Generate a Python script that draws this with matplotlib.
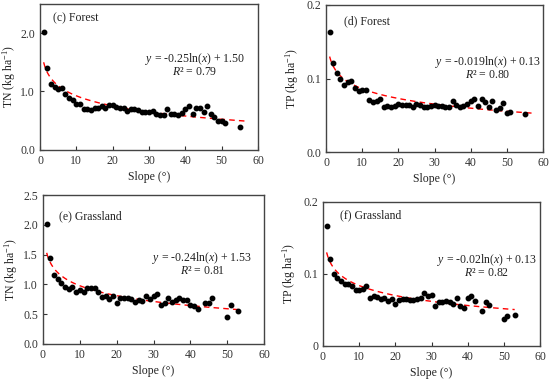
import numpy as np
import matplotlib
matplotlib.use("Agg")
import matplotlib.pyplot as plt

plt.rcParams['font.family'] = ['Liberation Serif', 'DejaVu Serif']
plt.rcParams['mathtext.fontset'] = 'custom'
plt.rcParams['mathtext.rm'] = 'Liberation Serif'
plt.rcParams['mathtext.it'] = 'Liberation Serif:italic'
plt.rcParams['mathtext.bf'] = 'Liberation Serif:bold'

# ---------------- data ----------------
forest_tn_x = [1, 2, 3, 4, 5, 6, 7, 8, 9, 10, 11, 12, 13, 14, 15, 16, 17, 18, 19, 20,
               21, 22, 23, 24, 25, 26, 27, 28, 29, 30, 31, 32, 33, 34, 35, 36, 37, 38, 39, 40,
               41, 42, 43, 44, 45, 46, 47, 48, 49, 50, 51, 55]
forest_tn_y = [2.02, 1.40, 1.13, 1.07, 1.05, 1.06, 0.96, 0.89, 0.85, 0.79, 0.79, 0.70, 0.70, 0.68,
               0.72, 0.71, 0.745, 0.71, 0.775, 0.76, 0.735, 0.71, 0.72, 0.66, 0.705, 0.69, 0.68,
               0.65, 0.64, 0.65, 0.66, 0.62, 0.60, 0.60, 0.70, 0.62, 0.62, 0.59, 0.63, 0.705,
               0.75, 0.62, 0.72, 0.71, 0.64, 0.75, 0.62, 0.565, 0.50, 0.49, 0.46, 0.39]

forest_tp_x = forest_tn_x
forest_tp_y = [0.164, 0.121, 0.107, 0.100, 0.092, 0.096, 0.097, 0.087, 0.083, 0.085, 0.084,
               0.071, 0.068, 0.070, 0.072, 0.061, 0.063, 0.061, 0.063, 0.065, 0.064, 0.064,
               0.064, 0.061, 0.065, 0.064, 0.062, 0.061, 0.063, 0.064, 0.063, 0.063, 0.061,
               0.062, 0.070, 0.064, 0.062, 0.063, 0.066, 0.069, 0.072, 0.063, 0.072, 0.068,
               0.062, 0.070, 0.0575, 0.060, 0.067, 0.054, 0.055, 0.052]

grass_tn_x = [1, 2, 3, 4, 5, 6, 7, 8, 9, 10, 11, 12, 13, 14, 15, 16, 17, 18, 19, 20,
              21, 22, 23, 24, 25, 26, 27, 28, 29, 30, 31, 32, 33, 34, 35, 36, 37, 38, 39, 40,
              41, 42, 44, 45, 46, 50, 51, 53]
grass_tn_y = [2.01, 1.45, 1.16, 1.09, 1.02, 0.96, 0.93, 0.95, 0.88, 0.91, 0.88, 0.94, 0.94,
              0.94, 0.88, 0.785, 0.80, 0.75, 0.80, 0.68, 0.78, 0.77, 0.77, 0.75, 0.71, 0.73,
              0.72, 0.81, 0.75, 0.80, 0.84, 0.65, 0.69, 0.78, 0.71, 0.74, 0.77, 0.74, 0.73,
              0.65, 0.63, 0.58, 0.69, 0.69, 0.77, 0.45, 0.66, 0.56]

grass_tp_x = grass_tn_x
grass_tp_y = [0.166, 0.121, 0.100, 0.095, 0.0905, 0.086, 0.086, 0.083, 0.078, 0.078, 0.079,
              0.0835, 0.066, 0.069, 0.068, 0.065, 0.066, 0.063, 0.065, 0.058, 0.064, 0.065,
              0.065, 0.064, 0.064, 0.065, 0.067, 0.074, 0.070, 0.071, 0.056, 0.061, 0.061,
              0.062, 0.061, 0.0585, 0.066, 0.056, 0.053, 0.066, 0.069, 0.062, 0.049, 0.061,
              0.057, 0.038, 0.042, 0.043]

# fit parameters (a*ln(x) + b) and plotted range end
fits = {
    'c': (-0.25, 1.50, 57),
    'd': (-0.019, 0.13, 57),
    'e': (-0.24, 1.53, 53),
    'f': (-0.02, 0.13, 53),
}
eq_text = {
    'c': (r'$y$ = -0.25ln($x$) + 1.50', r'$R$² = 0.79'),
    'd': (r'$y$ = -0.019ln($x$) + 0.13', r'$R$² = 0.80'),
    'e': (r'$y$ = -0.24ln($x$) + 1.53', r'$R$² = 0.81'),
    'f': (r'$y$ = -0.02ln($x$) + 0.13', r'$R$² = 0.82'),
}
titles = {'c': '(c) Forest', 'd': '(d) Forest', 'e': '(e) Grassland', 'f': '(f) Grassland'}

fig = plt.figure(figsize=(5.5, 3.81), dpi=100)
W, H = 550, 381
def add_ax(l, t, r, b):
    return fig.add_axes([l / W, (H - b) / H, (r - l) / W, (b - t) / H])

axes = {
    'c': add_ax(40, 4, 258, 149.7),
    'd': add_ax(326, 5, 543, 152.3),
    'e': add_ax(43, 195, 264, 344),
    'f': add_ax(323, 202, 540, 346),
}
data = {
    'c': (forest_tn_x, forest_tn_y),
    'd': (forest_tp_x, forest_tp_y),
    'e': (grass_tn_x, grass_tn_y),
    'f': (grass_tp_x, grass_tp_y),
}
ylims = {'c': 2.5, 'd': 0.2, 'e': 2.5, 'f': 0.2}
yticks = {
    'c': ([0, 1, 2], ['0.0', '1.0', '2.0']),
    'd': ([0, 0.1, 0.2], ['0.0', '0.1', '0.2']),
    'e': ([0, 0.5, 1.0, 1.5, 2.0, 2.5], ['0.0', '0.5', '1.0', '1.5', '2.0', '2.5']),
    'f': ([0, 0.1, 0.2], ['0', '0.1', '0.2']),
}
ylabels = {'c': 'TN (kg ha$^{-1}$)', 'd': 'TP (kg ha$^{-1}$)',
           'e': 'TN (kg ha$^{-1}$)', 'f': 'TP (kg ha$^{-1}$)'}
labelpads = {'c': 1.5, 'd': 4, 'e': 2.5, 'f': 4}
eqpos = {'c': (0.71, 0.625, 0.535), 'd': (0.747, 0.615, 0.525),
         'e': (0.72, 0.58, 0.49), 'f': (0.755, 0.60, 0.51)}
titlepos = {'c': (0.06, 0.90), 'd': (0.083, 0.89), 'e': (0.072, 0.86), 'f': (0.078, 0.91)}

fs = 8.5
for k, ax in axes.items():
    x, y = data[k]
    a, b, xe = fits[k]
    xf = np.linspace(1, xe, 200)
    ax.plot(xf, a * np.log(xf) + b, color='#ff0000', lw=1.0, ls=(0, (4, 3)), zorder=2)
    ax.plot(x, y, 'o', color='black', ms=3.2, zorder=3)
    ax.set_xlim(0, 60)
    ax.set_ylim(0, ylims[k])
    ax.set_xticks([0, 10, 20, 30, 40, 50, 60])
    ax.set_yticks(yticks[k][0])
    ax.set_yticklabels(yticks[k][1])
    ax.tick_params(direction='in', length=3, width=0.8, labelsize=fs, colors='#333333',
                   labelcolor='#333333')
    for s in ax.spines.values():
        s.set_color('#444444')
        s.set_linewidth(1.0)
    ax.set_xlabel('Slope (°)', fontsize=fs, color='#222222', labelpad=3)
    ax.set_ylabel(ylabels[k], fontsize=fs, color='#222222', labelpad=labelpads[k])
    ex, ey1, ey2 = eqpos[k]
    ax.text(ex, ey1, eq_text[k][0], transform=ax.transAxes, ha='center', va='center',
            fontsize=fs, color='#222222')
    ax.text(ex, ey2, eq_text[k][1], transform=ax.transAxes, ha='center', va='center',
            fontsize=fs, color='#222222')
    tx, ty = titlepos[k]
    ax.text(tx, ty, titles[k], transform=ax.transAxes, ha='left', va='center',
            fontsize=fs, color='#222222')

fig.savefig('out.png', dpi=100)
